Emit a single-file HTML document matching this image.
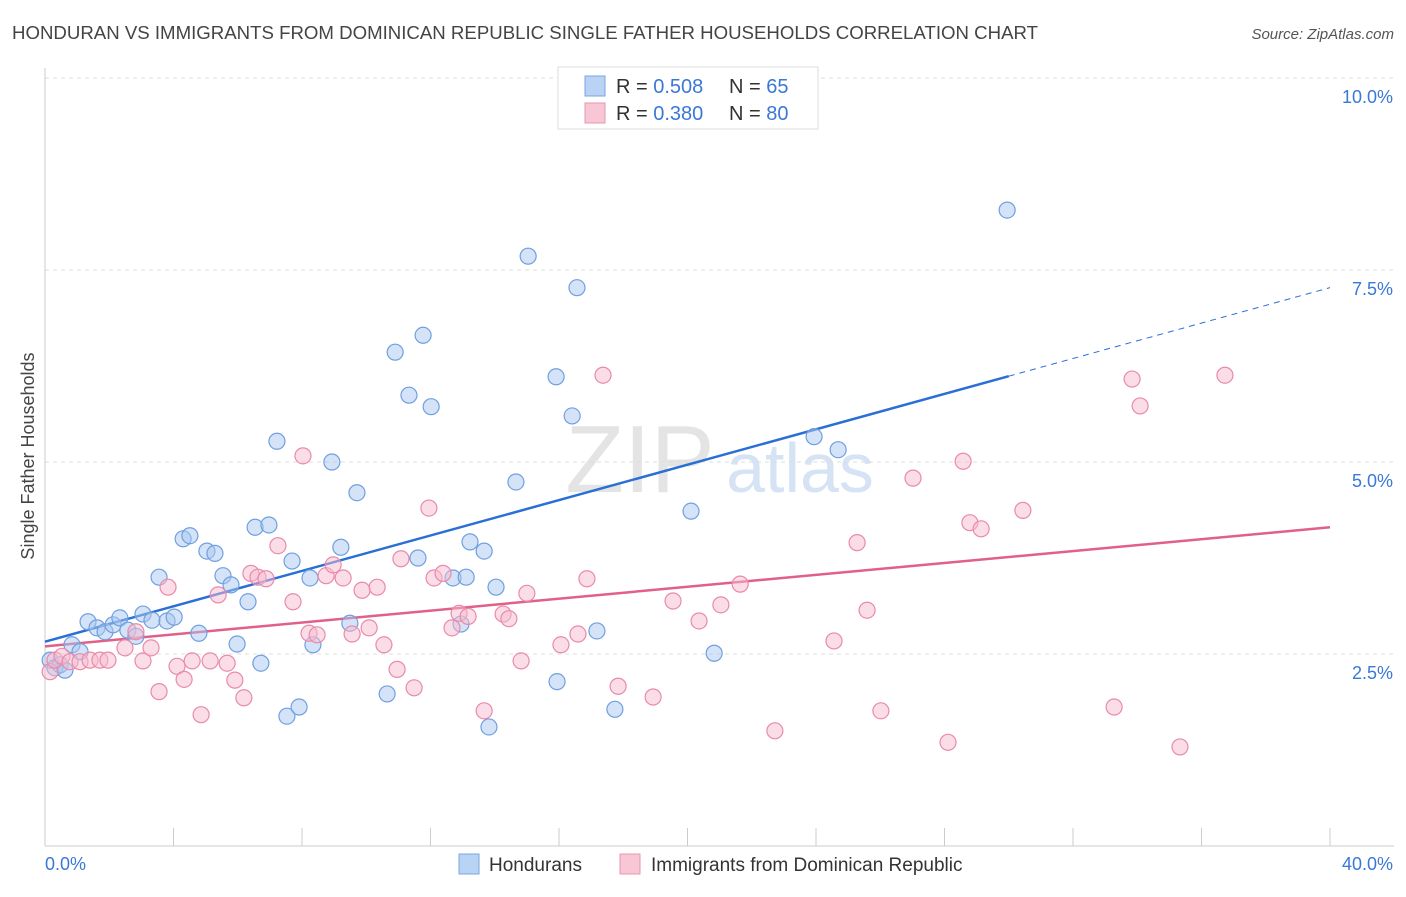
<!DOCTYPE html>
<html><head><meta charset="utf-8"><style>
body{margin:0;background:#fff;font-family:"Liberation Sans",sans-serif;}
svg text{font-family:"Liberation Sans",sans-serif;}
</style></head><body>
<svg id="chart" width="1406" height="892" xmlns="http://www.w3.org/2000/svg">
<text x="12" y="39" font-size="18.5" fill="#444" textLength="1026" lengthAdjust="spacingAndGlyphs">HONDURAN VS IMMIGRANTS FROM DOMINICAN REPUBLIC SINGLE FATHER HOUSEHOLDS CORRELATION CHART</text>
<text x="1394" y="39" font-size="15" fill="#555" text-anchor="end" font-style="italic">Source: ZipAtlas.com</text>
<text x="0" y="0" transform="translate(34,456) rotate(-90)" font-size="18" fill="#444" text-anchor="middle">Single Father Households</text>
<text x="640" y="492" font-size="96" fill="#e4e4e4" font-family="Liberation Serif" text-anchor="middle">ZIP</text>
<text x="800" y="492" font-size="70" fill="#d5e3f5" text-anchor="middle">atlas</text>
<g id="grid"></g><g id="axes"></g><g id="lines"></g><g id="pts"></g>
<g>
<rect x="558" y="67" width="260" height="62" fill="#fff" stroke="#ddd"/>
<rect x="585" y="76" width="20" height="20" fill="#b9d3f5" stroke="#7aa6e0"/>
<rect x="585" y="103" width="20" height="20" fill="#f8c6d5" stroke="#e896b1"/>
<text x="616" y="93" font-size="20" fill="#333">R = <tspan fill="#3a78d8">0.508</tspan></text>
<text x="729" y="93" font-size="20" fill="#333">N = <tspan fill="#3a78d8">65</tspan></text>
<text x="616" y="120" font-size="20" fill="#333">R = <tspan fill="#3a78d8">0.380</tspan></text>
<text x="729" y="120" font-size="20" fill="#333">N = <tspan fill="#3a78d8">80</tspan></text>
</g>
<g>
<rect x="459" y="854" width="20" height="20" fill="#b9d3f5" stroke="#7aa6e0"/>
<text x="489" y="871" font-size="19" fill="#333">Hondurans</text>
<rect x="620" y="854" width="20" height="20" fill="#f8c6d5" stroke="#e896b1"/>
<text x="651" y="871" font-size="19" fill="#333">Immigrants from Dominican Republic</text>
</g>
<text x="45" y="870" font-size="18" fill="#3a78d8">0.0%</text>
<text x="1393" y="870" font-size="18" fill="#3a78d8" text-anchor="end">40.0%</text>
</svg>
<script>
const yTicks=[2.5,5,7.5,10];
const yTickLabels=["2.5%","5.0%","7.5%","10.0%"];
const xTicks=[0,4,8,12,16,20,24,28,32,36,40];
const blueX=[.16,.31,.47,.62,.84,1.09,1.34,1.62,1.87,2.12,2.33,2.58,2.83,3.05,3.33,3.55,3.80,4.02,4.30,4.51,4.79,5.04,5.29,5.54,5.79,5.98,6.32,6.54,6.72,6.97,7.22,7.53,7.69,7.91,8.25,8.34,8.93,9.21,9.49,9.71,10.65,10.90,11.33,11.61,11.77,12.02,12.70,12.95,13.11,13.23,13.67,13.82,14.04,14.66,15.04,15.91,15.94,16.41,16.56,17.18,17.74,20.11,20.83,23.94,24.69,29.95];
const blueY=[2.42,2.32,2.36,2.29,2.62,2.53,2.92,2.84,2.79,2.88,2.97,2.81,2.73,3.02,2.94,3.50,2.93,2.98,4.00,4.04,2.77,3.84,3.81,3.52,3.40,2.63,3.18,4.15,2.38,4.18,5.27,1.69,3.71,1.81,3.49,2.62,5.00,3.89,2.90,4.60,1.98,6.43,5.87,3.75,6.65,5.72,3.49,2.89,3.50,3.96,3.84,1.55,3.37,4.74,7.68,6.11,2.14,5.60,7.27,2.80,1.78,4.36,2.51,5.33,5.16,8.28];
const pinkX=[.16,.31,.53,.78,1.09,1.40,1.71,1.96,2.49,2.83,3.05,3.30,3.55,3.83,4.11,4.33,4.58,4.86,5.14,5.39,5.67,5.91,6.19,6.41,6.63,6.88,7.25,7.72,8.03,8.22,8.47,8.75,8.97,9.28,9.56,9.87,10.09,10.34,10.55,10.96,11.08,11.49,11.95,12.11,12.39,12.67,12.89,13.17,13.67,14.26,14.44,14.82,15.00,16.06,16.59,16.87,17.37,17.84,18.93,19.55,20.36,21.04,21.64,22.72,24.56,25.28,25.59,26.02,27.02,28.11,28.58,28.79,29.14,30.44,33.28,33.84,34.09,35.33,36.73];
const pinkY=[2.27,2.42,2.47,2.40,2.40,2.42,2.42,2.42,2.58,2.79,2.41,2.58,2.01,3.37,2.34,2.17,2.41,1.71,2.41,3.27,2.38,2.16,1.93,3.55,3.50,3.48,3.91,3.18,5.08,2.77,2.75,3.52,3.66,3.49,2.76,3.33,2.84,3.37,2.62,2.30,3.74,2.06,4.40,3.49,3.55,2.84,3.03,2.99,1.76,3.02,2.96,2.41,3.29,2.62,2.76,3.48,6.13,2.08,1.94,3.19,2.93,3.14,3.41,1.50,2.67,3.95,3.07,1.76,4.79,1.35,5.01,4.21,4.13,4.37,1.81,6.08,5.73,1.29,6.13];
const blueTrend=[2.66,7.27];
const pinkTrend=[2.60,4.15];
const blueSolidEnd=30;
const X=v=>45+v/40*1285, Y=v=>846-v/2.5*192;
const NS="http://www.w3.org/2000/svg";
function mk(t,a,p){const e=document.createElementNS(NS,t);for(const k in a)e.setAttribute(k,a[k]);p.appendChild(e);return e;}
const grid=document.getElementById('grid'),axes=document.getElementById('axes'),lines=document.getElementById('lines'),pts=document.getElementById('pts');
yTicks.forEach((t,i)=>{
 const l=mk('line',{x1:45,x2:1394,y1:Y(t),y2:Y(t),stroke:'#ddd','stroke-dasharray':'4,4'},grid);
 
 
 const tx=mk('text',{x:1393,y:Y(t)+25,'font-size':18,fill:'#3a78d8','text-anchor':'end'},axes);
 tx.textContent=yTickLabels[i];
 
 
});
const ax=mk('line',{x1:45,x2:1394,y1:846,y2:846,stroke:'#ccc'},axes);


const ay=mk('line',{x1:45,x2:45,y1:68,y2:846,stroke:'#ccc'},axes);


xTicks.forEach(t=>{const l=mk('line',{x1:X(t),x2:X(t),y1:828,y2:846,stroke:'#ccc'},axes);
 
 });
function dots(xs,ys,fill,stroke,name){xs.forEach((x,i)=>{
 const c=mk('circle',{cx:X(x),cy:Y(ys[i]),r:8,fill:fill,'fill-opacity':0.5,stroke:stroke,'stroke-width':1.2},pts);
 
 });}
dots(blueX,blueY,'#a9c8f0','#6fa0e0','honduran-point');
dots(pinkX,pinkY,'#f7bccf','#e98aa9','dominican-point');
const by=v=>blueTrend[0]+(blueTrend[1]-blueTrend[0])*v/40;
const b1=mk('line',{x1:X(0),y1:Y(blueTrend[0]),x2:X(blueSolidEnd),y2:Y(by(blueSolidEnd)),stroke:'#2a6fd6','stroke-width':2.5},lines);


const b2=mk('line',{x1:X(blueSolidEnd),y1:Y(by(blueSolidEnd)),x2:X(40),y2:Y(blueTrend[1]),stroke:'#2a6fd6','stroke-width':1,'stroke-dasharray':'6,5'},lines);


const p1=mk('line',{x1:X(0),y1:Y(pinkTrend[0]),x2:X(40),y2:Y(pinkTrend[1]),stroke:'#e0608a','stroke-width':2.5},lines);


</script>
</body></html>
